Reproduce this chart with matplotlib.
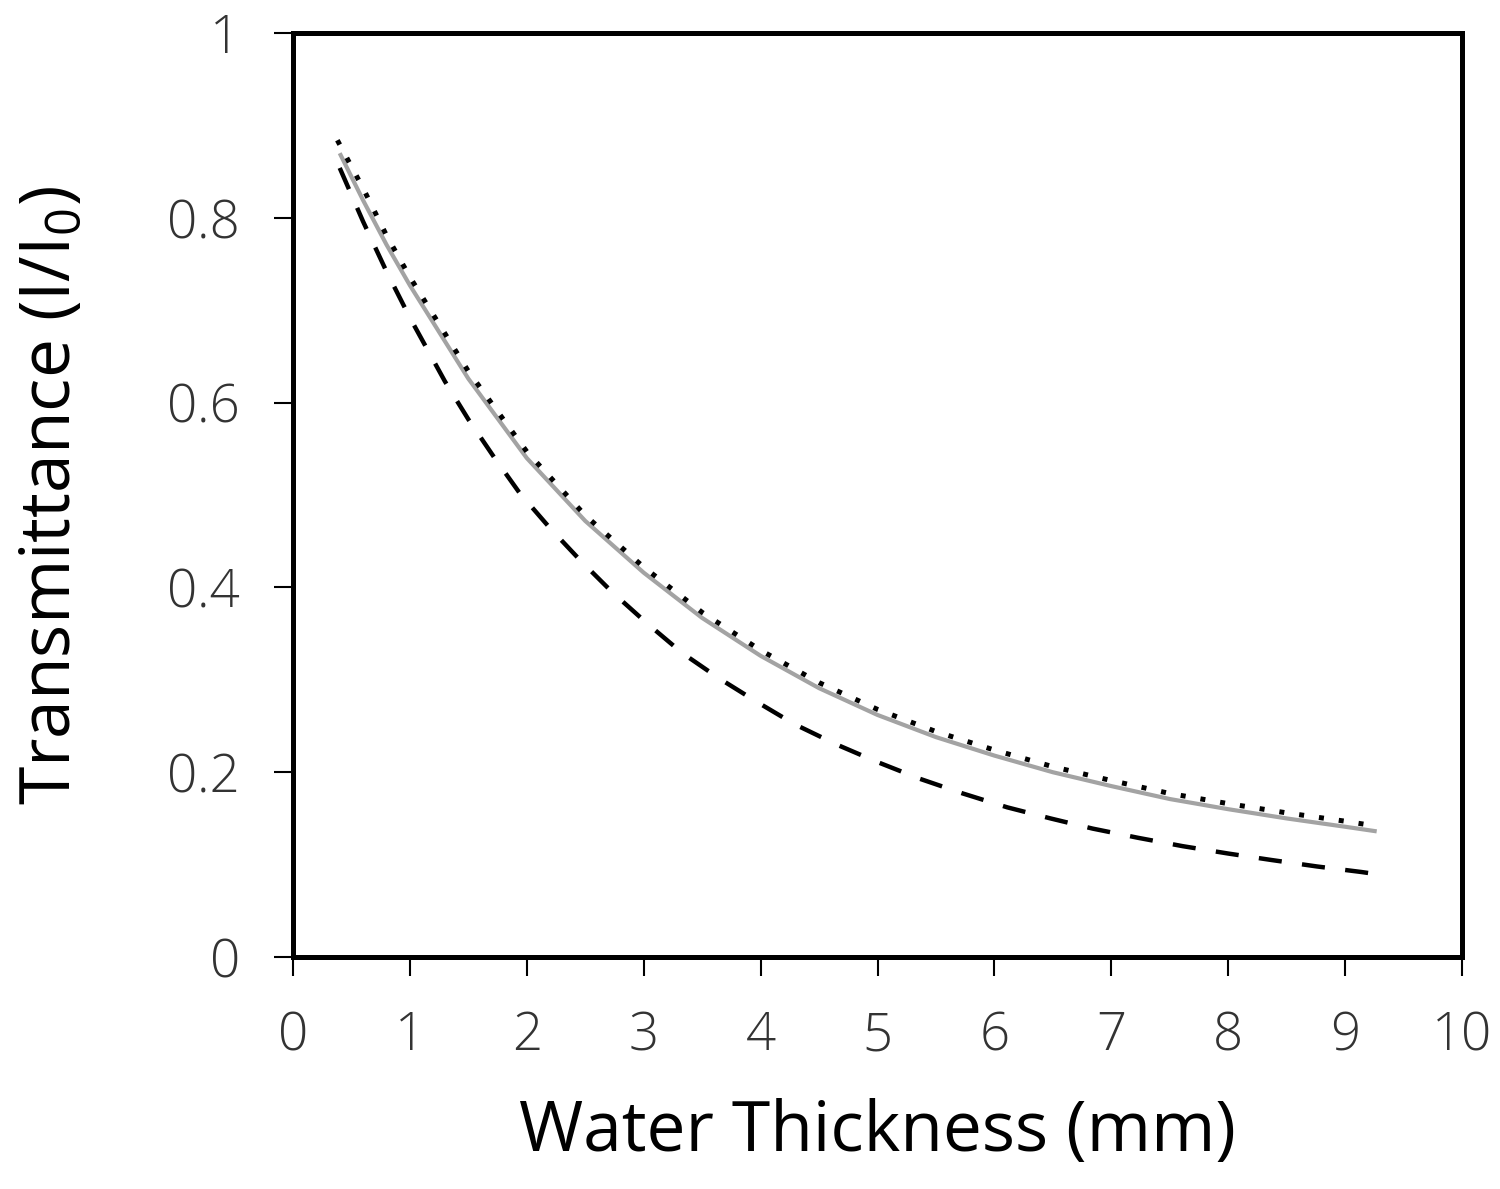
import matplotlib.pyplot as plt

plt.rcParams['font.family'] = ['Open Sans', 'DejaVu Sans']
plt.rcParams['mathtext.fontset'] = 'custom'
plt.rcParams['mathtext.rm'] = 'Open Sans'

# solid grey curve
thick_solid = [0.4, 0.6, 0.8, 1.0, 1.5, 2.0, 2.5, 3.0, 3.5, 4.0, 4.5, 5.0,
               5.5, 6.0, 6.5, 7.0, 7.5, 8.0, 8.5, 9.0, 9.27]
trans_solid = [0.870, 0.819, 0.771, 0.727, 0.626, 0.540, 0.472, 0.416,
               0.367, 0.326, 0.291, 0.262, 0.238, 0.218, 0.200, 0.185, 0.171,
               0.160, 0.150, 0.141, 0.136]

# dotted black curve
thick_dot = [0.38, 0.6, 0.8, 1.0, 1.5, 2.0, 2.5, 3.0, 3.5, 4.0, 4.5, 5.0, 5.5,
             6.0, 6.5, 7.0, 7.5, 8.0, 8.5, 9.0, 9.2]
trans_dot = [0.884, 0.832, 0.781, 0.736, 0.634, 0.547, 0.478, 0.422, 0.373,
             0.332, 0.297, 0.268, 0.244, 0.224, 0.206, 0.191, 0.177, 0.166,
             0.156, 0.147, 0.143]

# dashed black curve
thick_dash = [0.4, 0.6, 0.8, 1.0, 1.3, 1.5, 1.72, 1.94, 2.2, 2.46, 2.73, 3.03,
              3.33, 3.64, 3.97, 4.29, 4.65, 5.0, 5.36, 5.73, 6.11, 6.48, 6.84,
              7.23, 7.61, 8.0, 8.37, 8.76, 9.14, 9.25]
trans_dash = [0.854, 0.796, 0.742, 0.692, 0.623, 0.582, 0.541, 0.502, 0.464,
              0.429, 0.395, 0.361, 0.329, 0.302, 0.276, 0.252, 0.230, 0.211,
              0.193, 0.177, 0.162, 0.150, 0.139, 0.129, 0.120, 0.112, 0.105,
              0.098, 0.092, 0.090]

fig = plt.figure(figsize=(15, 11.89), dpi=100)
ax = fig.add_axes([0.1953, 0.1951, 0.7794, 0.7771])

ax.plot(thick_solid, trans_solid, color='#a3a3a3', lw=3.0, solid_capstyle='butt')
ax.plot(thick_dot, trans_dot, color='black', lw=3.6, linestyle=(0, (1, 3)))
ax.plot(thick_dash, trans_dash, color='black', lw=3.2, linestyle=(0, (5.2, 4.6)))

ax.set_xlim(0, 10)
ax.set_ylim(0, 1)
ax.set_xticks(range(0, 11))
ax.set_yticks([0, 0.2, 0.4, 0.6, 0.8, 1])
ax.set_yticklabels(['0', '0.2', '0.4', '0.6', '0.8', '1'])

for s in ax.spines.values():
    s.set_linewidth(3.6)
ax.tick_params(direction='out', length=14, width=1.5, labelsize=38, pad=24,
               colors='black', labelcolor='#333333')
for lab in ax.get_xticklabels() + ax.get_yticklabels():
    lab.set_fontweight('light')

ax.set_xlabel('Water Thickness (mm)', fontsize=50)
ax.set_ylabel(r'Transmittance (I/I$\mathregular{_0}$)', fontsize=50)
ax.xaxis.set_label_coords(0.5, -0.153)
ax.yaxis.set_label_coords(-0.176, 0.5)

fig.savefig('out.png', dpi=100)
